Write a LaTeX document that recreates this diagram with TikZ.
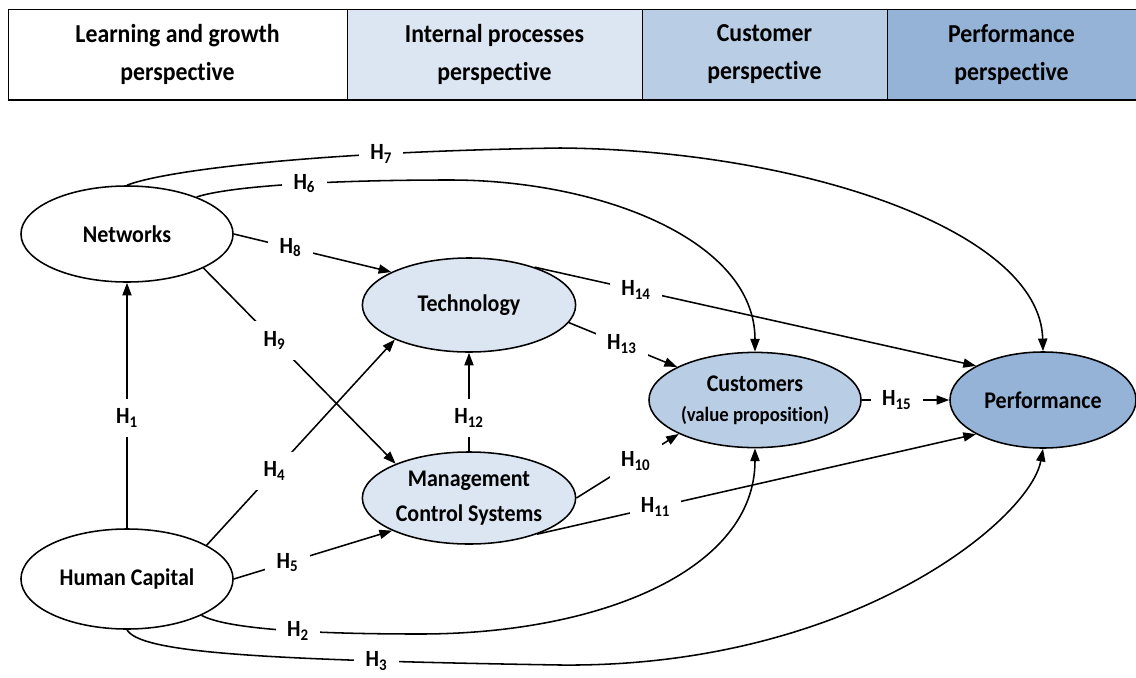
\documentclass[tikz,border=0pt]{standalone}
\usepackage{fontspec}
\setmainfont{Carlito}[FakeStretch=0.92, Ligatures=NoCommon]
\usetikzlibrary{shapes.geometric, arrows.meta}
\definecolor{pale}{HTML}{DCE6F2}
\definecolor{mid}{HTML}{B9CDE5}
\definecolor{deep}{HTML}{95B3D7}
\newcommand{\hname}[1]{H\textsubscript{#1}}
\tikzset{
  persp/.style={draw, minimum height=2.275cm, inner sep=0pt, align=center,
    font=\fontsize{18.4}{27}\selectfont\bfseries},
  factor/.style={draw, ellipse, inner sep=0pt, align=center, line width=1.1pt,
    font=\fontsize{17}{25}\selectfont\bfseries},
  hyp/.style={fill=white, inner xsep=8pt, inner ysep=7pt,
    font=\fontsize{16.5}{18}\selectfont\bfseries},
  link/.style={line width=1.1pt, -{Triangle[length=9pt,width=6.5pt]}}
}
\begin{document}
\begin{tikzpicture}[x=0.025cm, y=-0.025cm]
  \useasboundingbox (0,0) rectangle (1136,677);
  % perspectives
  \node[persp, minimum width=8.475cm] (lg) at (177.5,54.5) {Learning and growth\\perspective};
  \node[persp, fill=pale, minimum width=7.375cm] (ip) at (494.5,54.5) {Internal processes\\perspective};
  \node[persp, fill=mid, minimum width=6.125cm] (cp) at (764.5,54.5) {Customer\\perspective};
  \node[persp, fill=deep, minimum width=6.225cm] (pp) at (1011.5,54.5) {Performance\\perspective};
  \draw[line width=1.5pt] (lg.south west) -- (pp.south east);
  % factors
  \node[factor, minimum width=5.3cm, minimum height=2.4cm] (net) at (127,234) {Networks};
  \node[factor, minimum width=5.3cm, minimum height=2.5cm] (hc) at (127,579) {Human Capital};
  \node[factor, fill=pale, minimum width=5.33cm, minimum height=2.35cm] (tech) at (469,305) {Technology};
  \node[factor, fill=pale, minimum width=5.33cm, minimum height=2.3cm] (mcs) at (469,498) {Management\\Control Systems};
  \node[factor, fill=mid, minimum width=5.3cm, minimum height=2.38cm] (cust) at (755,400)
    {Customers\\[-4pt]{\fontsize{14.5}{18}\selectfont (value proposition)}};
  \node[factor, fill=deep, minimum width=4.65cm, minimum height=2.4cm] (perf) at (1043,400) {Performance};
  % hypotheses
  \draw[link] (hc.north) -- node[hyp, pos=0.45] {\hname{1}} (net.south);
  \draw[link] (hc.-26) .. controls (225,628) and (300,634) .. (420,634) node[hyp, pos=0.6] {\hname{2}}
    .. controls (600,634) and (755,570) .. (cust.south);
  \draw[link] (hc.south) .. controls (140,652) and (250,660) .. (560,665) node[hyp, pos=0.77] {\hname{3}}
    .. controls (850,668) and (1030,520) .. (perf.south);
  \draw[link] (hc.23) -- node[hyp, pos=0.36] {\hname{4}} (tech.205);
  \draw[link] (hc.east) -- node[hyp, pos=0.34] {\hname{5}} (mcs.203);
  \draw[link] (net.28) .. controls (230,186) and (330,180) .. (450,180) node[hyp, pos=0.55] {\hname{6}}
    .. controls (600,180) and (755,240) .. (cust.north);
  \draw[link] (net.north) .. controls (160,172) and (300,152) .. (560,148) node[hyp, pos=0.74] {\hname{7}}
    .. controls (800,150) and (1040,230) .. (perf.north);
  \draw[link] (net.east) -- node[hyp, pos=0.36] {\hname{8}} (tech.157);
  \draw[link] (net.-24) -- node[hyp, pos=0.37] {\hname{9}} (mcs.155);
  \draw[link] (mcs.east) -- node[hyp, pos=0.58] {\hname{10}} (cust.204);
  \draw[link] (mcs.-28) -- node[hyp, pos=0.27] {\hname{11}} (perf.207);
  \draw[link] (mcs.north) -- node[hyp, pos=0.34] {\hname{12}} (tech.south);
  \draw[link] (tech.-10) -- node[hyp, pos=0.49] {\hname{13}} (cust.157);
  \draw[link] (tech.30) -- node[hyp, pos=0.23] {\hname{14}} (perf.153);
  \draw[link] (cust.east) -- node[hyp, pos=0.4] {\hname{15}} (perf.west);
\end{tikzpicture}
\end{document}
